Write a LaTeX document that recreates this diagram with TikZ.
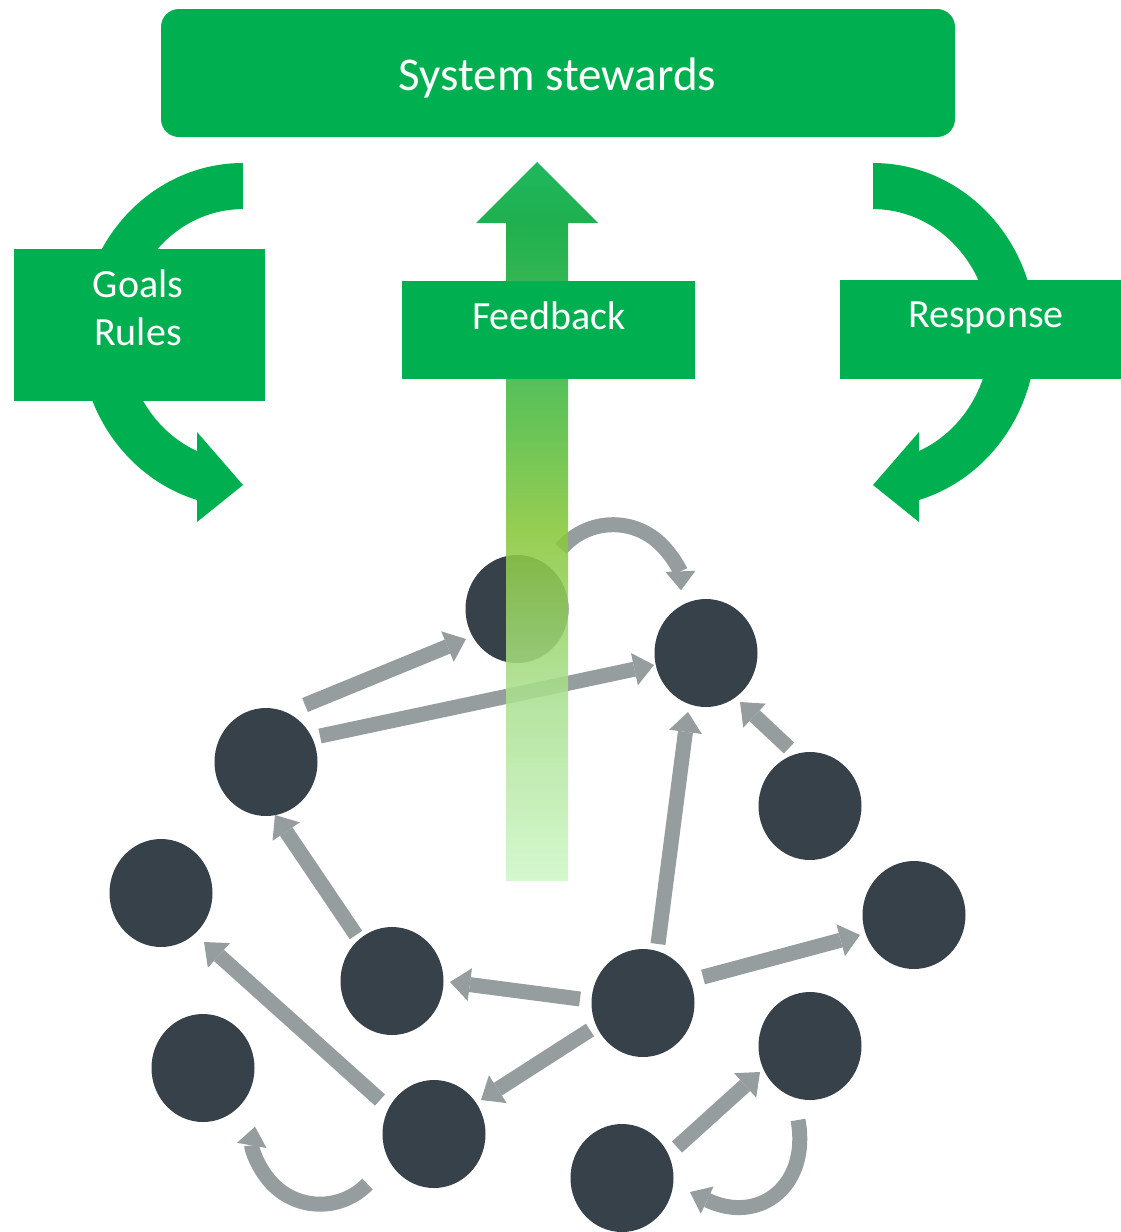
\documentclass[tikz,border=0pt]{standalone}
\usepackage{fontspec}
\setmainfont{Carlito}
\usetikzlibrary{arrows.meta,calc,shapes.geometric}
\definecolor{gr}{HTML}{00B050}
\definecolor{nodec}{HTML}{37414A}
\definecolor{greyc}{HTML}{959D9E}
\definecolor{fbA}{HTML}{00AE48}
\definecolor{fbB}{HTML}{00A537}
\definecolor{fbC}{HTML}{3EB743}
\definecolor{fbD}{HTML}{88C73A}
\definecolor{fbE}{HTML}{ABE093}
\definecolor{fbF}{HTML}{CFF7C8}
\pgfdeclareverticalshading{fbshade}{100bp}{color(0bp)=(fbF); color(25bp)=(fbF); color(37.6bp)=(fbE); color(49.4bp)=(fbD); color(59.8bp)=(fbC); color(70.8bp)=(fbB); color(75bp)=(fbA); color(100bp)=(fbA)}
\begin{document}
\begin{tikzpicture}[x=1pt,y=-1pt,
  gbox/.style={rectangle, fill=gr, draw=none, inner sep=0pt, outer sep=0pt},
  dot/.style={ellipse, fill=nodec, draw=none, minimum width=103pt, minimum height=108pt, inner sep=0pt, outer sep=0pt},
  lbl/.style={text=white, font=\fontsize{40}{48}\selectfont, anchor=base, inner sep=0pt},
  garrow/.style={draw=greyc, line width=15pt, -{Triangle[width=33pt,length=20pt,line width=0pt]}},
  garc/.style={draw=greyc, line width=15pt, -{Triangle[width=30pt,length=19pt,line width=0pt]}}
]
\useasboundingbox (0,0) rectangle (1121,1232);

% curved green arrows
\fill[gr] (243,163) arc[start angle=270, end angle=106.4, x radius=163, y radius=172]
  -- (197,451) arc[start angle=113.1, end angle=270, x radius=117, y radius=126] -- cycle;
\fill[gr] (197,432) -- (243,485) -- (197,522) -- cycle;
\fill[gr] (873,163) arc[start angle=270, end angle=433.6, x radius=163, y radius=172]
  -- (919,451) arc[start angle=426.9, end angle=270, x radius=117, y radius=126] -- cycle;
\fill[gr] (919,432) -- (873,485) -- (919,522) -- cycle;

% network nodes
\node[dot] (n1) at (517,609) {};
\node[dot] (n2) at (706,653) {};
\node[dot] (n3) at (266,762) {};
\node[dot] (n4) at (810,806) {};
\node[dot] (n5) at (161,893) {};
\node[dot] (n6) at (914,915) {};
\node[dot] (n7) at (392,981) {};
\node[dot] (n8) at (643,1003) {};
\node[dot] (n9) at (810,1046) {};
\node[dot] (n10) at (203,1068) {};
\node[dot] (n11) at (434,1134) {};
\node[dot] (n12) at (622,1178) {};

% grey connectors
\draw[garrow] ($(n3)+(39,-57)$) -- ($(n1)+(-51,30)$);
\draw[garrow] ($(n3)+(54,-26)$) -- ($(n2)+(-52,12)$);
\draw[garrow] ($(n4)+(-21,-58)$) -- ($(n2)+(34,49)$);
\draw[garrow] ($(n8)+(15,-59)$) -- ($(n2)+(-18,59)$);
\draw[garrow] ($(n7)+(-36,-46)$) -- ($(n3)+(9,53)$);
\draw[garrow] ($(n8)+(-63,-4)$) -- ($(n7)+(58,1)$);
\draw[garrow] ($(n8)+(60,-26)$) -- ($(n6)+(-54,20)$);
\draw[garrow] ($(n8)+(-53,27)$) -- ($(n11)+(47,-34)$);
\draw[garrow] ($(n11)+(-54,-34)$) -- ($(n5)+(43,49)$);
\draw[garrow] ($(n12)+(55,-31)$) -- ($(n9)+(-50,26)$);
\draw[garc] ($(n1)+(44,-60)$) arc[start angle=220, end angle=358, radius=68];
\draw[garc] ($(n11)+(-66.5,50)$) arc[start angle=44, end angle=190, radius=66];
\draw[garc] ($(n9)+(-12,74)$) .. controls +(12,65) and +(70,33) .. ($(n12)+(68,14)$);

% feedback arrow
\shade[shading=fbshade, fill opacity=0.88]
  (506,881) -- (506,223) -- (476,223) -- (537,162) -- (598,223) -- (568,223) -- (568,881) -- cycle;

% boxes
\node[gbox, minimum width=794pt, minimum height=128pt, rounded corners=18pt] (top) at (558,73) {};
\node[gbox, minimum width=251pt, minimum height=152pt] (goals) at (139.5,325) {};
\node[gbox, minimum width=293pt, minimum height=98pt] (fb) at (548.5,330) {};
\node[gbox, minimum width=281pt, minimum height=99pt] (resp) at (980.5,329.5) {};

% texts
\node[lbl, font=\fontsize{47}{56}\selectfont] (ttop) at (557.5,90) {System stewards};
\node[lbl] (tgoals) at (138,297) {Goals};
\node[lbl] (trules) at (138,345) {Rules};
\node[lbl] (tfb) at (549,329) {Feedback};
\node[lbl] (tresp) at (986,327) {Response};
\end{tikzpicture}
\end{document}
